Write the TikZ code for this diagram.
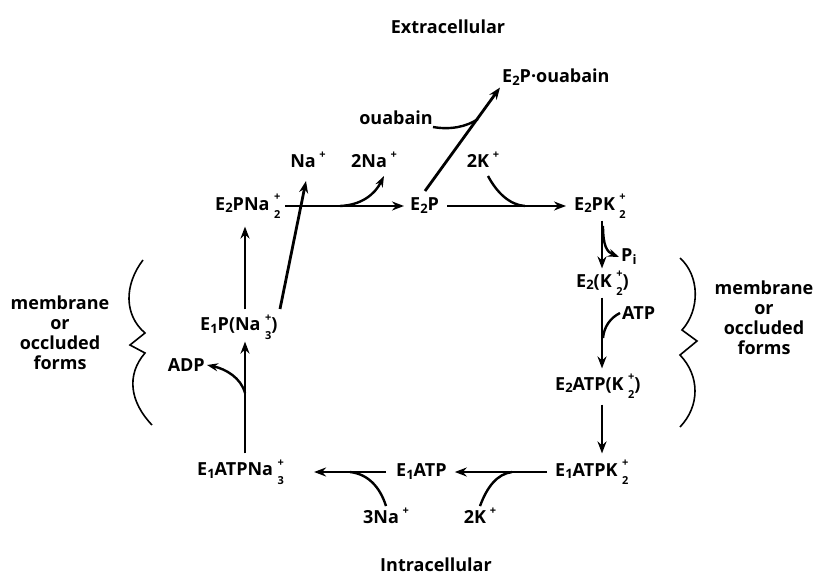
\documentclass[tikz,border=0pt]{standalone}
\usepackage{fontspec}
\setmainfont{Open Sans}
\usetikzlibrary{arrows.meta}
\newcommand{\sbs}[1]{\raisebox{-0.3ex}{\fontsize{13}{13}\selectfont #1}}
\newcommand{\chg}[2]{\hspace{0.25em}\rlap{\raisebox{1.0ex}{\fontsize{11}{11}\selectfont #1}}\raisebox{-0.85ex}{\fontsize{11}{11}\selectfont #2}}
\newcommand{\pl}{\hspace{0.2em}\raisebox{0.9ex}{\fontsize{11}{11}\selectfont +}}
\begin{document}
\begin{tikzpicture}[x=1pt,y=-1pt,
  lbl/.style={font=\bfseries\fontsize{18}{20}\selectfont, inner sep=2pt},
  mainarrow/.style={line width=2.8pt, -{Stealth[length=12pt,width=9pt]}},
  relarrow/.style={line width=2.4pt, -{Stealth[length=11pt,width=8pt]}},
  joinline/.style={line width=2.4pt},
  bracepath/.style={line width=1.6pt}]
\useasboundingbox (0,0) rectangle (816,580);
% titles
\node[lbl] (extra) at (448,27) {Extracellular};
\node[lbl] (intra) at (436,565) {Intracellular};
% top row
\node[lbl,anchor=west] (e2pna) at (213,206) {E\sbs{2}PNa\chg{+}{2}};
\node[lbl,anchor=west] (e2p) at (408,206) {E\sbs{2}P};
\node[lbl,anchor=west] (e2pk) at (572,206) {E\sbs{2}PK\chg{+}{2}};
\node[lbl,anchor=west] (e2pouab) at (500,77) {E\sbs{2}P\textperiodcentered ouabain};
\node[lbl] (ouab) at (396,118) {ouabain};
\node[lbl] (na1) at (308,160) {Na\pl};
\node[lbl] (na2) at (374,160) {2Na\pl};
\node[lbl] (k2a) at (483,160) {2K\pl};
% right column
\node[lbl,anchor=west] (pi) at (619,257) {P\sbs{i}};
\node[lbl,anchor=west] (e2k) at (574,283) {E\sbs{2}(K\chg{+}{2})};
\node[lbl,anchor=west] (atp) at (620,313) {ATP};
\node[lbl,anchor=west] (e2atpk) at (553,386) {E\sbs{2}ATP(K\chg{+}{2})};
% bottom row
\node[lbl,anchor=west] (e1atpk) at (553,472) {E\sbs{1}ATPK\chg{+}{2}};
\node[lbl,anchor=west] (e1atp) at (394,472) {E\sbs{1}ATP};
\node[lbl,anchor=west] (e1atpna) at (195,472) {E\sbs{1}ATPNa\chg{+}{3}};
\node[lbl] (na3) at (386,516) {3Na\pl};
\node[lbl] (k2b) at (480,516) {2K\pl};
% left column
\node[lbl,anchor=west] (e1p) at (198,327) {E\sbs{1}P(Na\chg{+}{3})};
\node[lbl,anchor=east] (adp) at (207,365) {ADP};
% membrane labels
\node[lbl,align=center] (memL) at (60,333) {membrane\\or\\occluded\\forms};
\node[lbl,align=center] (memR) at (764,318) {membrane\\or\\occluded\\forms};
% column/row references
\coordinate (colR) at (602,0);
\coordinate (colL) at (245,0);
\coordinate (rowT) at (0,206);
\coordinate (rowB) at (0,472);
% top row connectors
\draw[mainarrow,shorten <=3pt,shorten >=4pt] (e2pna.east |- rowT) -- (e2p.west |- rowT);
\coordinate (j1) at (340,206);
\coordinate (t1) at (384,176);
\draw[relarrow] (j1) .. controls (362,205) and (375,194) .. (t1);
\draw[mainarrow,shorten <=6pt,shorten >=6pt] (e2p.east |- rowT) -- (e2pk.west |- rowT);
\coordinate (t2) at (488,176);
\coordinate (j2) at (525,206);
\draw[joinline] (t2) .. controls (497,193) and (510,205) .. (j2);
\coordinate (dS) at (425,191);
\draw[mainarrow] (dS) -- (e2pouab.south west);
\coordinate (o1) at (433,127);
\coordinate (o2) at (478,119);
\draw[joinline] (o1) .. controls (450,130) and (466,127) .. (o2);
% Na+ release
\coordinate (naS) at (280,309);
\coordinate (naT) at (306,181);
\draw[mainarrow] (naS) -- (naT);
% right column connectors
\draw[mainarrow] (e2pk.south -| colR) -- (e2k.north -| colR);
\coordinate (p1) at (603,226);
\draw[relarrow] (p1) .. controls (603,246) and (607,252) .. (pi.west);
\draw[mainarrow,shorten >=3pt] (e2k.south -| colR) -- (e2atpk.north -| colR);
\coordinate (a2) at (603,338);
\draw[joinline] (atp.west) .. controls (610,318) and (604,327) .. (a2);
\draw[mainarrow,shorten <=4pt,shorten >=4pt] (e2atpk.south -| colR) -- (e1atpk.north -| colR);
% bottom row connectors
\draw[mainarrow,shorten <=6pt,shorten >=6pt] (e1atpk.west |- rowB) -- (e1atp.east |- rowB);
\coordinate (j3) at (512,472);
\draw[joinline] (k2b.north) .. controls (487,487) and (497,474) .. (j3);
\draw[mainarrow,shorten <=8pt,shorten >=28pt] (e1atp.west |- rowB) -- (e1atpna.east |- rowB);
\coordinate (j4) at (350,472);
\draw[joinline] (na3.north) .. controls (380,487) and (368,474) .. (j4);
% left column connectors
\draw[mainarrow,shorten <=4pt] (e1atpna.north -| colL) -- (e1p.south -| colL);
\coordinate (d1) at (245,393);
\draw[relarrow] (d1) .. controls (241,378) and (226,369) .. (adp.east);
\draw[mainarrow,shorten <=3pt,shorten >=6pt] (e1p.north -| colL) -- (e2pna.south -| colL);
% braces
\draw[bracepath] (143,260) .. controls (124,285) and (124,315) .. (145,333) -- (130,345) -- (145,353) .. controls (126,375) and (130,402) .. (152,425);
\draw[bracepath] (680,258) .. controls (700,276) and (700,310) .. (682,330) -- (697,341) -- (680,355) .. controls (700,376) and (700,406) .. (680,427);
\end{tikzpicture}
\end{document}
